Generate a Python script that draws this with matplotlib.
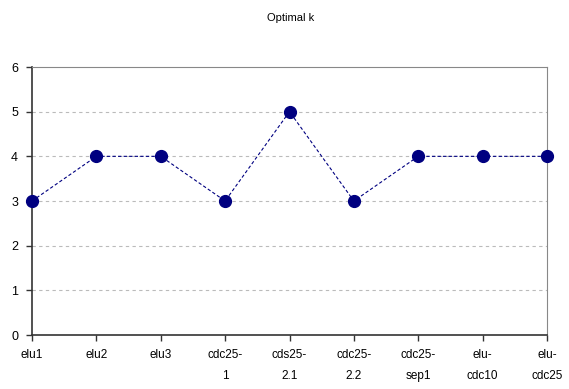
import matplotlib
matplotlib.use('Agg')
import matplotlib.pyplot as plt

# Chart data
categories = ['elu1', 'elu2', 'elu3', 'cdc25-\n1', 'cds25-\n2.1', 'cdc25-\n2.2',
              'cdc25-\nsep1', 'elu-\ncdc10', 'elu-\ncdc25']
optimal_k = [3, 4, 4, 3, 5, 3, 4, 4, 4]
y_ticks = [0, 1, 2, 3, 4, 5, 6]

plt.rcParams['font.family'] = ['Liberation Sans', 'DejaVu Sans']

fig = plt.figure(figsize=(5.69, 3.89), dpi=100)
ax = fig.add_axes([32 / 569, 54 / 389, 515 / 569, 268 / 389])

x = list(range(len(categories)))
ax.plot(x, optimal_k, color='#000080', linestyle=(0, (3, 2)), linewidth=0.8,
        marker='o', markersize=8.5, markerfacecolor='#000080',
        markeredgecolor='#000080', clip_on=False, zorder=3)

ax.set_xlim(0, len(categories) - 1)
ax.set_ylim(0, 6)
ax.set_yticks(y_ticks)
ax.set_xticks(x)
ax.set_xticklabels(categories, fontsize=8.5, linespacing=2.0)
ax.tick_params(axis='y', labelsize=9, length=4, width=1, color='#333333', pad=6)
ax.tick_params(axis='x', length=4, width=1, color='#333333', pad=6)

# gridlines
for v in y_ticks[1:-1]:
    ax.axhline(v, color='#bbbbbb', linestyle=(0, (3, 3)), linewidth=0.8, zorder=1)

ax.spines['left'].set_color('#333333')
ax.spines['bottom'].set_color('#333333')
ax.spines['left'].set_linewidth(1.2)
ax.spines['bottom'].set_linewidth(1.2)
ax.spines['top'].set_color('#888888')
ax.spines['right'].set_color('#888888')
ax.spines['top'].set_linewidth(0.8)
ax.spines['right'].set_linewidth(0.8)

fig.text(0.51, 0.953, 'Optimal k', ha='center', va='center', fontsize=8)

fig.savefig('out.png', dpi=100)
